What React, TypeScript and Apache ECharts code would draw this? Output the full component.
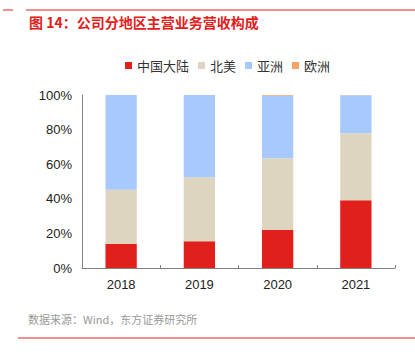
import React, { useEffect, useRef } from "react";
import * as echarts from "echarts";

const categories = ["2018", "2019", "2020", "2021"];
const seriesNames = ["中国大陆", "北美", "亚洲", "欧洲"];
const mainland = [14.0, 15.4, 22.1, 39.2];
const northAmerica = [31.2, 37.1, 41.4, 38.7];
const asia = [54.8, 47.5, 36.0, 22.0];
const europe = [0, 0, 0.5, 0.1];
const colors = ["#e2201b", "#ddd5bf", "#a8c9fd", "#f9a263"];
const yTicks = [0, 20, 40, 60, 80, 100];

const CJK = '"Noto Sans CJK SC", "Noto Sans", sans-serif';
const LAT = '"Liberation Sans", Arial, sans-serif';

export default function App() {
  const ref = useRef<HTMLDivElement>(null);
  useEffect(() => {
    if (!ref.current) return;
    const chart = echarts.init(ref.current, undefined, { renderer: "svg" });
    const dataSets = [mainland, northAmerica, asia, europe];
    chart.setOption({
      animation: false,
      textStyle: { fontFamily: CJK },
      graphic: [
        { type: "line", shape: { x1: 3, y1: 10, x2: 13, y2: 10 }, style: { stroke: "#e2201b", lineWidth: 1 } },
        { type: "line", shape: { x1: 26, y1: 10, x2: 415, y2: 10 }, style: { stroke: "#e2201b", lineWidth: 1 } },
        {
          type: "text",
          left: 29,
          top: 15,
          style: {
            text: "图 14：公司分地区主营业务营收构成",
            fill: "#e2201b",
            font: `bold 14px ${CJK}`,
          },
        },
        {
          type: "text",
          left: 28,
          top: 313,
          style: {
            text: "数据来源：Wind，东方证券研究所",
            fill: "#999999",
            font: `11px ${CJK}`,
          },
        },
        { type: "line", shape: { x1: 18, y1: 338, x2: 415, y2: 338 }, style: { stroke: "#e2201b", lineWidth: 1 } },
      ],
      legend: {
        data: seriesNames,
        top: 54,
        left: 120,
        itemWidth: 7,
        itemHeight: 7,
        itemGap: 9,
        icon: "rect",
        textStyle: { fontFamily: CJK, fontSize: 13, color: "#333" },
      },
      grid: { left: 82, right: 20, top: 95, bottom: 93 },
      xAxis: {
        type: "category",
        data: categories,
        axisLine: { lineStyle: { color: "#808080" } },
        axisTick: { show: true, inside: true, length: 3, lineStyle: { color: "#808080" } },
        axisLabel: { color: "#222", fontSize: 13, fontFamily: LAT, margin: 10 },
      },
      yAxis: {
        type: "value",
        min: 0,
        max: 100,
        interval: 20,
        axisLine: { show: true, lineStyle: { color: "#808080" } },
        axisTick: { show: false },
        splitLine: { show: false },
        axisLabel: {
          color: "#222",
          fontSize: 13,
          fontFamily: LAT,
          margin: 10,
          formatter: (v: number) => (yTicks.includes(v) ? `${v}%` : ""),
        },
      },
      series: seriesNames.map((name, i) => ({
        name,
        type: "bar",
        stack: "total",
        barWidth: "40%",
        data: dataSets[i],
        itemStyle: { color: colors[i] },
      })),
    });
    return () => chart.dispose();
  }, []);
  return <div ref={ref} style={{ position: "fixed", left: 0, top: 0, width: 415, height: 361, background: "#fff" }} />;
}
